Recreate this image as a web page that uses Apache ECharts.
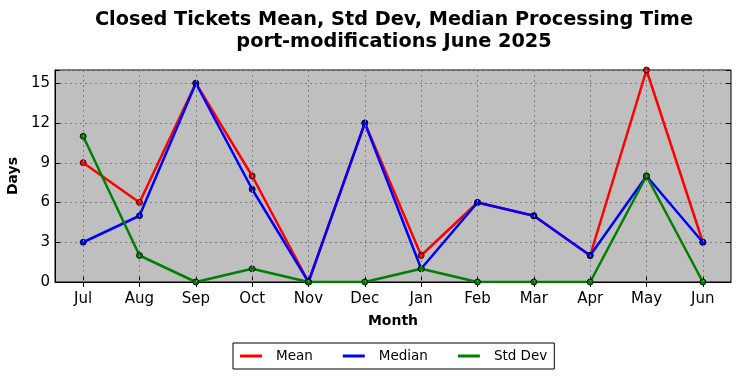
<!DOCTYPE html>
<html>
<head>
<meta charset="utf-8">
<script src="https://cdn.jsdelivr.net/npm/echarts@6/dist/echarts.min.js"></script>
<style>html,body{margin:0;padding:0;background:#fff;}#c{width:741px;height:378px;}</style>
</head>
<body>
<div id="c"></div>
<script>
const months = ['Jul','Aug','Sep','Oct','Nov','Dec','Jan','Feb','Mar','Apr','May','Jun'];
const meanVals = [9, 6, 15, 8, 0, 12, 2, 6, 5, 2, 16, 3];
const medianVals = [3, 5, 15, 7, 0, 12, 1, 6, 5, 2, 8, 3];
const stdVals = [11, 2, 0, 1, 0, 0, 1, 0, 0, 0, 8, 0];
const yTicks = [0, 3, 6, 9, 12, 15];

const FONT = 'DejaVu Sans';
const chart = echarts.init(document.getElementById('c'), null, {renderer: 'canvas'});
function mk(name, data, color) {
  return {
    name, type: 'line', data, xAxisIndex: 0, yAxisIndex: 0,
    symbol: 'circle', symbolSize: 6,
    lineStyle: {color, width: 2.5},
    itemStyle: {color, borderColor: '#000', borderWidth: 0.8},
    emphasis: {disabled: true}, animation: false, z: 3
  };
}
chart.setOption({
  animation: false,
  title: {
    text: 'Closed Tickets Mean, Std Dev, Median Processing Time\nport-modifications June 2025',
    left: 389, top: 4, textAlign: 'center',
    textStyle: {fontFamily: FONT, fontSize: 19.3, fontWeight: 'bold', color: '#000', lineHeight: 22}
  },
  grid: {left: 55, right: 10, top: 70, bottom: 96, show: true, backgroundColor: '#bfbfbf', borderColor: '#000', borderWidth: 1, outerBoundsMode: 'none', containLabel: false},
  legend: {
    data: ['Mean','Median','Std Dev'],
    left: 233, top: 343,
    orient: 'horizontal',
    borderColor: '#000', borderWidth: 1, borderRadius: 0,
    padding: [6, 7, 6, 7],
    icon: 'rect', itemWidth: 22, itemHeight: 3, itemGap: 30,
    itemStyle: {borderWidth: 0},
    textStyle: {fontFamily: FONT, fontSize: 13.5, color: '#000', padding: [0, 0, 0, 9]}
  },
  xAxis: [{
    type: 'category', data: months, boundaryGap: true,
    name: 'Month', nameLocation: 'middle', nameGap: 32,
    nameTextStyle: {fontFamily: FONT, fontSize: 14, fontWeight: 'bold', color: '#000'},
    axisLine: {show: true, lineStyle: {color: '#000'}},
    axisTick: {show: true, inside: true, alignWithLabel: true, length: 5, lineStyle: {color: '#000'}},
    axisLabel: {fontFamily: FONT, fontSize: 15, color: '#000', margin: 10},
    splitLine: {show: false}
  }, {
    type: 'category', data: months, boundaryGap: true, position: 'top',
    axisLine: {show: false},
    axisTick: {show: true, inside: true, alignWithLabel: true, length: 5, lineStyle: {color: '#000'}},
    axisLabel: {show: false}, splitLine: {show: false}
  }],
  yAxis: [{
    type: 'value', min: 0, max: 16, interval: 3,
    name: 'Days', nameLocation: 'middle', nameGap: 28,
    nameTextStyle: {fontFamily: FONT, fontSize: 14, fontWeight: 'bold', color: '#000'},
    axisLine: {show: true, lineStyle: {color: '#000'}},
    axisTick: {show: true, inside: true, length: 5, lineStyle: {color: '#000'}},
    axisLabel: {fontFamily: FONT, fontSize: 15, color: '#000', margin: 5,
      formatter: v => yTicks.includes(v) ? String(v) : ''},
    splitLine: {show: true, lineStyle: {color: '#808080', type: [2, 3], width: 1}}
  }, {
    type: 'value', min: 0, max: 16, interval: 3, position: 'right',
    axisLine: {show: false},
    axisTick: {show: true, inside: true, length: 5, lineStyle: {color: '#000'}},
    axisLabel: {show: false}, splitLine: {show: false}
  }],
  series: [
    {
      name: 'vgrid', type: 'line', data: [], xAxisIndex: 0, yAxisIndex: 0, z: 1, silent: true,
      markLine: {
        silent: true, symbol: 'none', animation: false,
        label: {show: false},
        lineStyle: {color: '#808080', type: [2, 3], width: 1},
        data: months.map(m => ({xAxis: m}))
      }
    },
    mk('Mean', meanVals, '#ff0000'),
    mk('Median', medianVals, '#0000ff'),
    mk('Std Dev', stdVals, '#008000')
  ]
});
</script>
</body>
</html>
